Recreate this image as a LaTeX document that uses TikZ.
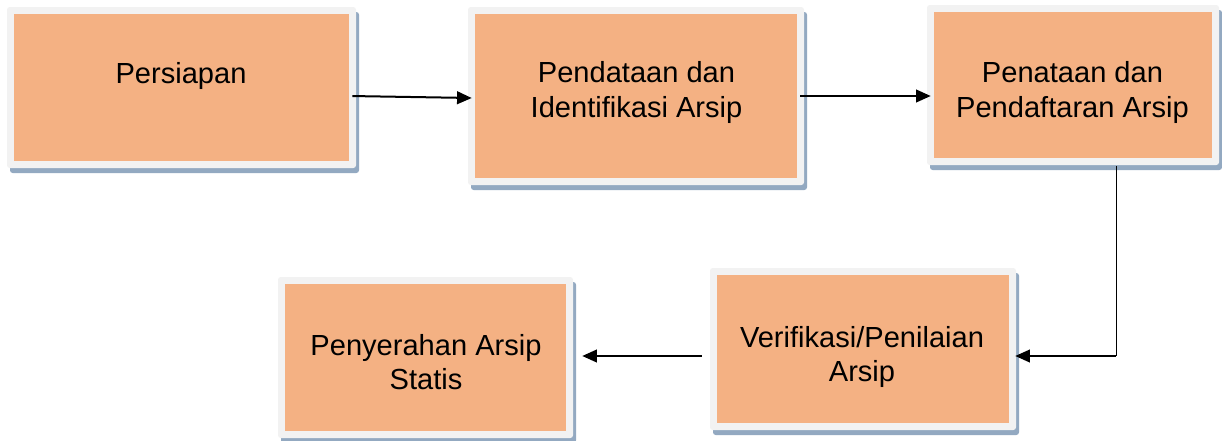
\documentclass[tikz,border=0pt]{standalone}
\usepackage{fontspec}
\setmainfont{Liberation Sans}
\usetikzlibrary{arrows.meta,shadows}
\definecolor{framegray}{HTML}{F2F2F2}
\definecolor{boxorange}{HTML}{F4B183}
\definecolor{shadowblue}{HTML}{93A9C1}
\begin{document}
\begin{tikzpicture}[x=0.75pt,y=-0.75pt,
  box/.style={fill=framegray,rounded corners=2pt,inner sep=0pt,
    drop shadow={shadow xshift=2.25pt,shadow yshift=-3.75pt,fill=shadowblue,opacity=1},
    path picture={\fill[boxorange,sharp corners] ([shift={(5.5pt,-5.5pt)}]path picture bounding box.north west) rectangle ([shift={(-5.5pt,5.5pt)}]path picture bounding box.south east);}},
  txt/.style={align=center,inner sep=0pt,font=\fontsize{21.8}{26}\selectfont},
  arrow/.style={line width=1.5pt,-{Triangle[length=11pt,width=9.5pt]}}]
\useasboundingbox (0,0) rectangle (1222,440);
\node[box,minimum width=261.75pt,minimum height=120.75pt] (b1) at (181.5,87.5) {};
\node[box,minimum width=252pt,minimum height=133.5pt] (b2) at (636,96) {};
\node[box,minimum width=219pt,minimum height=120pt] (b3) at (1073,85) {};
\node[box,minimum width=229.5pt,minimum height=121.5pt] (b4) at (863,349) {};
\node[box,minimum width=221.25pt,minimum height=120.75pt] (b5) at (425.5,357.5) {};
\node[txt] (t1) at (181,75.7) {Persiapan};
\node[txt] (t2) at (636.5,92.7) {Pendataan dan\\Identifikasi Arsip};
\node[txt] (t3) at (1072.5,92.7) {Penataan dan\\Pendaftaran Arsip};
\node[txt] (t4) at (862,357) {Verifikasi/Penilaian\\Arsip};
\node[txt] (t5) at (426,362) {Penyerahan Arsip\\Statis};
\coordinate (k3) at (1116,356);
\draw[arrow] ([shift={(-3pt,-6.4pt)}]b1.east) -- ([shift={(3pt,-1.5pt)}]b2.west);
\draw[arrow] ([shift={(-3pt,0pt)}]b2.east) -- ([shift={(3pt,-8.25pt)}]b3.west);
\draw[line width=0.75pt] ([yshift=-0.75pt]b3.south -| k3) -- (k3);
\draw[arrow] (k3) -- ([shift={(-0.75pt,-5.25pt)}]b4.east);
\draw[arrow] ([shift={(-6pt,-5.25pt)}]b4.west) -- ([shift={(6.75pt,1.125pt)}]b5.east);
\end{tikzpicture}
\end{document}
